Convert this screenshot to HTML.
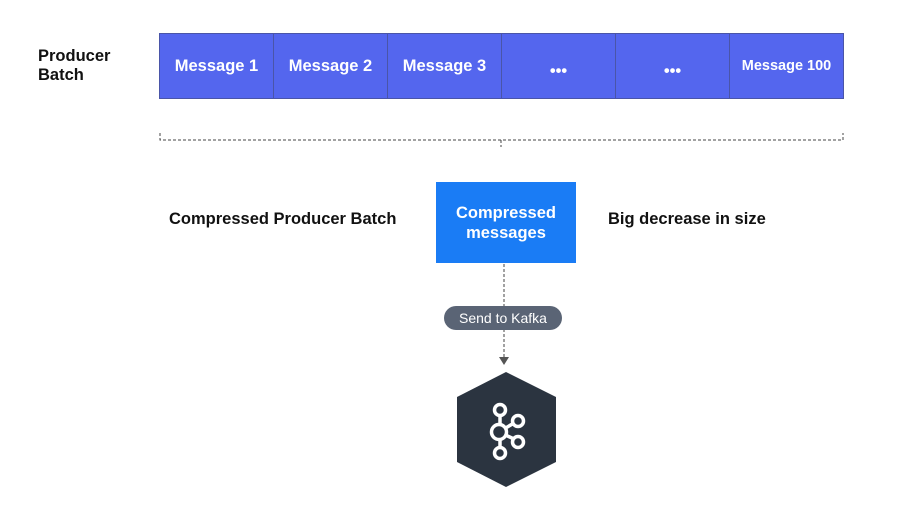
<!DOCTYPE html>
<html><head><style>
body{margin:0;width:906px;height:515px;background:#fff;font-family:"Liberation Sans",sans-serif;position:relative;overflow:hidden}
.t{position:absolute;font-weight:bold;color:#111;font-size:16.5px}
.row{position:absolute;left:159px;top:33px;width:685px;height:66px;display:flex;background:#5466ee;border:1px solid #4a55a8;box-sizing:border-box}
.row div{flex:1;border-right:1px solid #4a55a8;color:#fff;font-weight:bold;font-size:16.5px;display:flex;align-items:center;justify-content:center}
.row div:last-child{border-right:none;font-size:14.5px}
</style></head><body>
<div class="t" style="left:38px;top:47px;line-height:19px">Producer<br>Batch</div>
<div class="row"><div>Message 1</div><div>Message 2</div><div>Message 3</div><div style="padding-top:10px">•••</div><div style="padding-top:10px">•••</div><div>Message 100</div></div>
<svg width="906" height="515" style="position:absolute;left:0;top:0">
<path d="M160 133 V140 H843 V133 M501 140 V147" fill="none" stroke="#444" stroke-width="1" stroke-dasharray="3,2"/>
<line x1="504" y1="264" x2="504" y2="358" stroke="#444" stroke-dasharray="3,2"/>
<path d="M499 357 L509 357 L504 365 Z" fill="#555"/>
<rect x="444" y="306" width="118" height="24" rx="12" fill="#5a6475"/>
<text x="503" y="323" fill="#fff" font-size="14" text-anchor="middle" font-family="Liberation Sans">Send to Kafka</text>
<polygon points="506,372 556,397 556,462 506,487 457,462 457,397" fill="#2b3440"/>
<g fill="none" stroke="#fff" stroke-width="3.5">
<line x1="500" y1="415" x2="500" y2="448"/><line x1="499" y1="432" x2="514" y2="423"/><line x1="499" y1="432" x2="514" y2="439"/>
<circle cx="500" cy="410" r="5.5" fill="#2b3440"/><circle cx="499" cy="432" r="7.5" fill="#2b3440"/>
<circle cx="518" cy="421" r="5.5" fill="#2b3440"/><circle cx="518" cy="442" r="5.5" fill="#2b3440"/><circle cx="500" cy="453" r="5.5" fill="#2b3440"/>
</g>
</svg>
<div class="t" style="left:169px;top:210px">Compressed Producer Batch</div>
<div style="position:absolute;left:436px;top:182px;width:140px;height:81px;background:#1a7cf5;color:#fff;font-weight:bold;font-size:16.5px;display:flex;align-items:center;justify-content:center;text-align:center;line-height:20px">Compressed<br>messages</div>
<div class="t" style="left:608px;top:210px">Big decrease in size</div>
</body></html>
